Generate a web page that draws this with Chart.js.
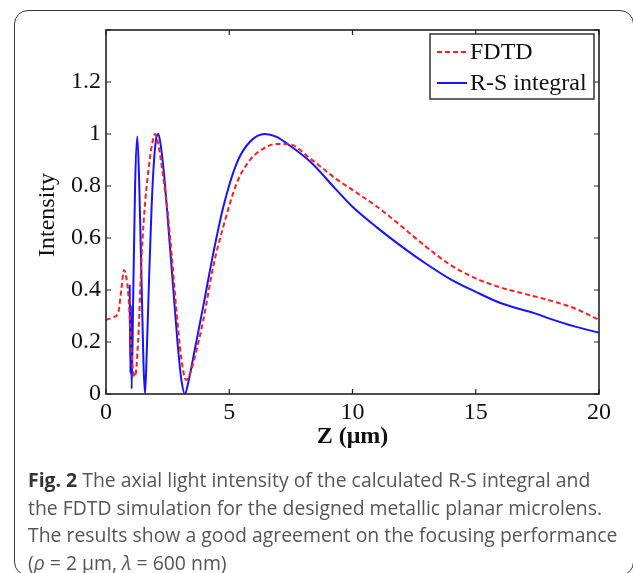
<!DOCTYPE html>
<html>
<head>
<meta charset="utf-8">
<script src="https://cdn.jsdelivr.net/npm/chart.js@4.4.1/dist/chart.umd.min.js"></script>
<style>
  html, body { margin: 0; padding: 0; background: #fff; }
  body { width: 633px; height: 573px; position: relative; overflow: hidden; }
  #frame {
    position: absolute; left: 14px; top: 10px; width: 620px; height: 566px;
    border: 1.5px solid #3a3a3a; border-radius: 14px; box-sizing: border-box;
  }
  #wrap { position: absolute; left: 0; top: 0; width: 633px; height: 573px; }
  #caption {
    position: absolute; left: 28px; top: 466px; width: 600px;
    font-family: "Open Sans", sans-serif; font-size: 19.4px; line-height: 27.5px;
    color: #555; white-space: nowrap;
  }
  #caption b { color: #333; }
</style>
</head>
<body>
<div id="frame"></div>
<div id="wrap"><canvas id="myChart"></canvas></div>
<div id="caption">
  <b>Fig. 2</b> The axial light intensity of the calculated R-S integral and<br>
  the FDTD simulation for the designed metallic planar microlens.<br>
  The results show a good agreement on the focusing performance<br>
  (<i>ρ</i> = 2 μm, <i>λ</i> = 600 nm)
</div>
<script>
// FDTD simulation (red dashed)
const zFdtd = [0, 0.3, 0.5, 0.62, 0.73, 0.82, 0.9, 0.96, 1.03, 1.1, 1.18, 1.3, 1.45, 1.6, 1.72, 1.85, 1.99,
  2.1, 2.3, 2.5, 2.66, 2.85, 3.05, 3.25, 3.45, 3.7, 3.95, 4.35, 4.76, 5.3, 5.84, 6.4, 6.92, 7.47, 8.28,
  9.3, 10, 11, 12, 13, 14, 15, 16, 17, 18, 19, 20];
const iFdtd = [0.285, 0.295, 0.315, 0.40, 0.477, 0.45, 0.39, 0.30, 0.17, 0.09, 0.067, 0.20, 0.54, 0.75, 0.86, 0.95, 1.0,
  0.97, 0.85, 0.70, 0.54, 0.33, 0.14, 0.054, 0.09, 0.18, 0.285, 0.49, 0.644, 0.81, 0.9, 0.945, 0.962, 0.96, 0.906,
  0.83, 0.785, 0.72, 0.644, 0.565, 0.495, 0.445, 0.41, 0.385, 0.36, 0.33, 0.285];

// Rayleigh-Sommerfeld integral (blue solid)
const zRs = [0.96, 0.99, 1.01, 1.04, 1.10, 1.18, 1.27, 1.35, 1.45, 1.52, 1.58, 1.65, 1.75, 1.85, 1.95, 2.05, 2.12,
  2.2, 2.35, 2.5, 2.7, 2.9, 3.05, 3.2, 3.35, 3.6, 3.95, 4.35, 4.76, 5.3, 5.84, 6.45, 6.9, 7.33, 8.28, 9.3,
  10, 11, 12, 13, 14, 15, 16, 17.4, 18, 19, 20];
const iRs = [0.42, 0.08, 0.34, 0.02, 0.35, 0.80, 0.99, 0.80, 0.40, 0.12, 0.0, 0.15, 0.45, 0.72, 0.90, 0.99, 1.0,
  0.97, 0.85, 0.68, 0.44, 0.20, 0.06, 0.0, 0.05, 0.17, 0.34, 0.54, 0.72, 0.887, 0.97, 1.0, 0.99, 0.964, 0.894, 0.79,
  0.72, 0.64, 0.567, 0.50, 0.44, 0.393, 0.35, 0.31, 0.29, 0.26, 0.236];

const xTicks = [0, 5, 10, 15, 20];
const yTicks = [0, 0.2, 0.4, 0.6, 0.8, 1, 1.2];

const serif = '"Liberation Serif", "Times New Roman", serif';

function toPoints(xs, ys) {
    return xs.map((x, i) => ({ x: x, y: ys[i] }));
}

// box, inward ticks, axis titles and framed legend, drawn the MATLAB way
const matlabFrame = {
    id: 'matlabFrame',
    afterDraw(chart) {
        const ctx = chart.ctx;
        const a = chart.chartArea;
        const xs = chart.scales.x;
        const ys = chart.scales.y;
        ctx.save();
        ctx.strokeStyle = '#222';
        ctx.lineWidth = 1.6;
        ctx.strokeRect(a.left, a.top, a.right - a.left, a.bottom - a.top);

        ctx.lineWidth = 1.2;
        ctx.beginPath();
        xTicks.forEach(v => {
            const px = xs.getPixelForValue(v);
            ctx.moveTo(px, a.bottom); ctx.lineTo(px, a.bottom - 5);
            ctx.moveTo(px, a.top); ctx.lineTo(px, a.top + 5);
        });
        yTicks.concat([1.4]).forEach(v => {
            const py = ys.getPixelForValue(v);
            ctx.moveTo(a.left, py); ctx.lineTo(a.left + 5, py);
            ctx.moveTo(a.right, py); ctx.lineTo(a.right - 5, py);
        });
        ctx.stroke();

        // axis titles
        ctx.fillStyle = '#111';
        ctx.textAlign = 'center';
        ctx.textBaseline = 'middle';
        ctx.font = 'bold 24px ' + serif;
        ctx.fillText('Z (μm)', (a.left + a.right) / 2, 437);
        ctx.save();
        ctx.translate(48, (a.top + a.bottom) / 2 + 3);
        ctx.rotate(-Math.PI / 2);
        ctx.font = '24px ' + serif;
        ctx.fillText('Intensity', 0, 0);
        ctx.restore();

        // legend
        const bw = 164, bh = 65;
        const bx = a.right - 5 - bw, by = a.top + 4;
        ctx.fillStyle = '#fff';
        ctx.fillRect(bx, by, bw, bh);
        ctx.lineWidth = 1.5;
        ctx.strokeStyle = '#333';
        ctx.strokeRect(bx, by, bw, bh);
        ctx.font = '24px ' + serif;
        ctx.textAlign = 'left';
        chart.data.datasets.forEach((ds, i) => {
            const ly = by + 18 + i * 31;
            ctx.beginPath();
            ctx.strokeStyle = ds.borderColor;
            ctx.lineWidth = ds.borderWidth;
            ctx.setLineDash(ds.borderDash || []);
            ctx.moveTo(bx + 7, ly);
            ctx.lineTo(bx + 37, ly);
            ctx.stroke();
            ctx.setLineDash([]);
            ctx.fillStyle = '#111';
            ctx.fillText(ds.label, bx + 40, ly + 1);
        });
        ctx.restore();
    }
};

const ctx = document.getElementById('myChart').getContext('2d');
const myChart = new Chart(ctx, {
    type: 'line',
    data: {
        datasets: [{
            label: 'FDTD',
            data: toPoints(zFdtd, iFdtd),
            borderColor: 'rgb(255, 30, 30)',
            borderWidth: 2,
            borderDash: [5, 3],
            pointRadius: 0,
            cubicInterpolationMode: 'monotone',
            fill: false
        },
        {
            label: 'R-S integral',
            data: toPoints(zRs, iRs),
            borderColor: 'rgb(20, 20, 255)',
            borderWidth: 2,
            pointRadius: 0,
            cubicInterpolationMode: 'monotone',
            fill: false
        }]
    },
    options: {
        responsive: true,
        maintainAspectRatio: false,
        animation: false,
        layout: { padding: { left: 0, top: 30, right: 34, bottom: 139 } },
        plugins: { legend: { display: false }, tooltip: { enabled: false } },
        scales: {
            x: {
                type: 'linear',
                min: 0,
                max: 20,
                afterBuildTicks: scale => { scale.ticks = xTicks.map(v => ({ value: v })); },
                afterFit: scale => { scale.height = 40; },
                grid: { display: false, drawTicks: false },
                border: { display: false },
                ticks: { padding: 4, color: '#111', font: { family: serif, size: 24 }, maxRotation: 0 }
            },
            y: {
                type: 'linear',
                min: 0,
                max: 1.4,
                afterBuildTicks: scale => { scale.ticks = yTicks.map(v => ({ value: v })); },
                afterFit: scale => { scale.width = 106; },
                grid: { display: false, drawTicks: false },
                border: { display: false },
                ticks: {
                    padding: 5,
                    color: '#111',
                    font: { family: serif, size: 24 },
                    callback: v => String(Number(v.toFixed(1)))
                }
            }
        }
    },
    plugins: [matlabFrame]
});
</script>
</body>
</html>
